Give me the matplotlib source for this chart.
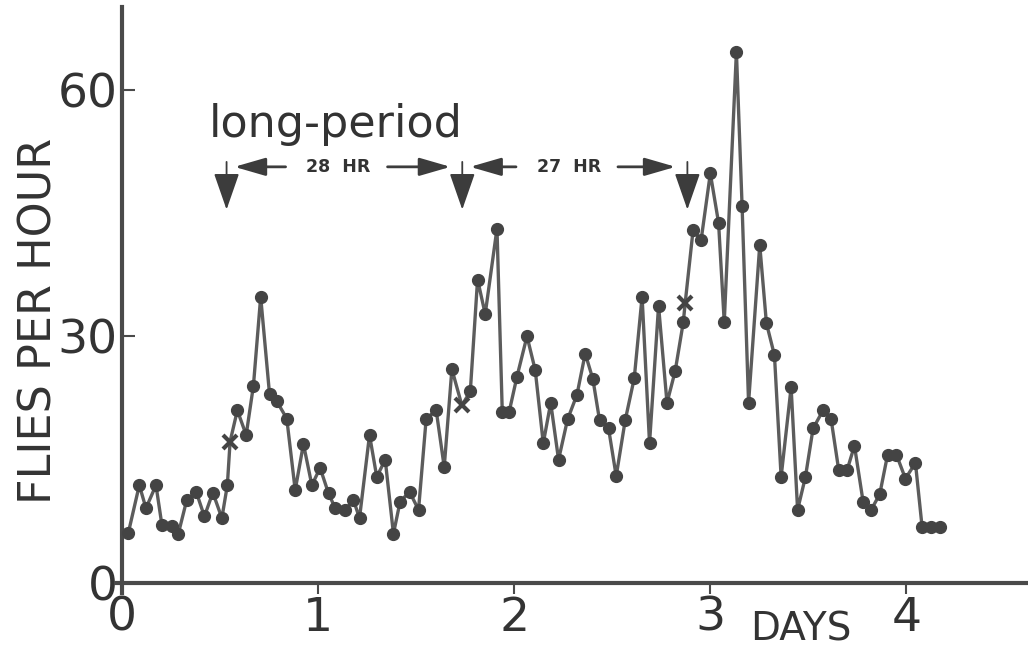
import matplotlib
matplotlib.use('Agg')
import matplotlib.pyplot as plt

# time of each hourly count, in days
days = [0.032, 0.088, 0.122, 0.173, 0.203, 0.254, 0.287, 0.330, 0.378, 0.420,
        0.463, 0.509, 0.537, 0.551, 0.588, 0.633, 0.670, 0.707, 0.752, 0.789,
        0.840, 0.883, 0.925, 0.968, 1.010, 1.053, 1.087, 1.138, 1.180, 1.211,
        1.262, 1.299, 1.342, 1.384, 1.418, 1.466, 1.512, 1.551, 1.602, 1.643,
        1.682, 1.733, 1.776, 1.813, 1.852, 1.912, 1.939, 1.974, 2.014, 2.065,
        2.107, 2.148, 2.186, 2.226, 2.272, 2.320, 2.362, 2.401, 2.435, 2.481,
        2.520, 2.566, 2.612, 2.652, 2.690, 2.736, 2.779, 2.821, 2.862, 2.872,
        2.912, 2.953, 3.000, 3.042, 3.071, 3.133, 3.162, 3.195, 3.252, 3.286,
        3.327, 3.361, 3.412, 3.445, 3.485, 3.524, 3.575, 3.616, 3.655, 3.697,
        3.735, 3.779, 3.820, 3.864, 3.904, 3.949, 3.995, 4.046, 4.080, 4.126,
        4.170]

flies = [6.1, 11.9, 9.1, 11.9, 7.1, 6.9, 6.0, 10.1, 11.1, 8.1,
         11.0, 7.9, 11.9, 17.2, 21.0, 18.0, 24.0, 34.8, 23.0, 22.1,
         20.0, 11.3, 16.9, 11.9, 14.0, 10.9, 9.1, 8.9, 10.1, 7.9,
         18.0, 12.9, 15.0, 6.0, 9.9, 11.1, 8.9, 20.0, 21.0, 14.1,
         26.0, 21.6, 23.3, 36.9, 32.7, 43.1, 20.8, 20.8, 25.1, 30.0,
         25.9, 17.0, 21.9, 15.0, 19.9, 22.9, 27.9, 24.8, 19.8, 18.8,
         13.0, 19.8, 24.9, 34.8, 17.0, 33.7, 21.9, 25.8, 31.7, 34.1,
         42.9, 41.7, 49.8, 43.8, 31.7, 64.6, 45.8, 21.9, 41.1, 31.6,
         27.7, 12.9, 23.8, 8.9, 12.9, 18.8, 21.0, 19.9, 13.7, 13.7,
         16.7, 9.9, 8.9, 10.8, 15.6, 15.6, 12.7, 14.6, 6.8, 6.8,
         6.8]

# points drawn with an "x" instead of a dot
cross_idx = [13, 41, 69]

# long-period markers (days) and the period labels between them
onsets = [0.533, 1.735, 2.883]
periods = ["28  HR", "27  HR"]

ink = '#4a4a4a'
plt.rcParams['font.family'] = ['DejaVu Sans']

fig = plt.figure(figsize=(10.28, 6.61), dpi=100)
ax = fig.add_axes([0.113, 0.103, 0.887, 0.886])

dot_x = [d for i, d in enumerate(days) if i not in cross_idx]
dot_y = [f for i, f in enumerate(flies) if i not in cross_idx]
crs_x = [days[i] for i in cross_idx]
crs_y = [flies[i] for i in cross_idx]

ax.plot(days, flies, color='#5c5c5c', lw=2.4, zorder=2)
ax.plot(dot_x, dot_y, 'o', color='#444444', ms=8.5, zorder=3)
ax.plot(crs_x, crs_y, 'x', color='#444444', ms=10, mew=3, zorder=3)

ax.set_xlim(-0.03, 4.62)
ax.set_ylim(-1.2, 70)

for side in ['top', 'right']:
    ax.spines[side].set_visible(False)
ax.spines['left'].set_position(('data', 0))
ax.spines['bottom'].set_position(('data', 0))
for side in ['left', 'bottom']:
    ax.spines[side].set_linewidth(3)
    ax.spines[side].set_color(ink)

ax.set_xticks([0, 1, 2, 3, 4])
ax.set_yticks([0, 30, 60])
ax.tick_params(axis='x', direction='out', length=8, width=1.5, color=ink,
               pad=1, labelsize=34, labelcolor='#333333')
ax.tick_params(axis='y', direction='in', length=9, width=1.5, color=ink,
               pad=3, labelsize=34, labelcolor='#333333')

ax.set_ylabel("FLIES PER HOUR", fontsize=32, color='#333333', va='center')
ax.yaxis.set_label_coords(-0.085, 0.465)
ax.text(3.46, -5.6, "DAYS", fontsize=28, color='#333333',
        ha='center', va='center', clip_on=False)

ax.text(1.09, 55.7, "long-period", fontsize=32, color='#333333',
        ha='center', va='center')

# down arrows marking the onsets
for d in onsets:
    ax.annotate('', xy=(d, 45.4), xytext=(d, 51.2),
                arrowprops=dict(arrowstyle='-|>,head_length=2.3,head_width=0.8',
                                color='#3c3c3c', lw=1.3, shrinkA=0, shrinkB=0))

# period spans between successive onsets
y_arr = 50.6
head = dict(arrowstyle='-|>,head_length=1.9,head_width=0.55',
            color='#3c3c3c', lw=2, shrinkA=0, shrinkB=0)
for k, lab in enumerate(periods):
    a, b = onsets[k], onsets[k + 1]
    mid = (a + b) / 2 - 0.03
    ax.text(mid, y_arr, lab, fontsize=12.5, fontweight='bold', color='#333333',
            ha='center', va='center')
    ax.annotate('', xy=(a + 0.04, y_arr), xytext=(mid - 0.27, y_arr), arrowprops=head)
    ax.annotate('', xy=(b - 0.06, y_arr), xytext=(mid + 0.25, y_arr), arrowprops=head)

fig.savefig('out.png', dpi=100, facecolor='white')
plt.close(fig)
